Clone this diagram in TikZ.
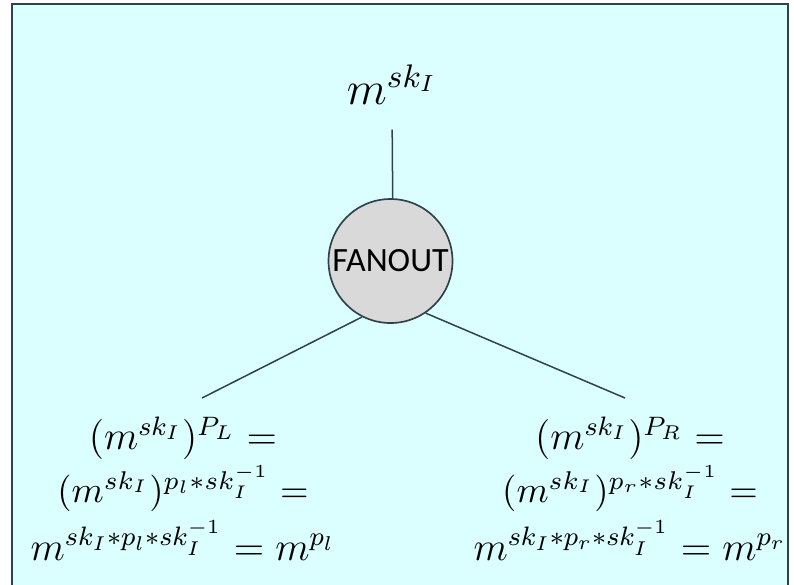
\RequirePackage{fix-cm}
\documentclass[tikz,border=0pt]{standalone}
\usepackage{fontspec}
\newfontfamily\gatefont{Carlito}
\definecolor{sheet}{HTML}{DBFFFF}
\definecolor{rim}{HTML}{2F414B}
\definecolor{disc}{HTML}{D9D9D9}

\begin{document}
\begin{tikzpicture}[x=0.3pt,y=-0.3pt,
  wire/.style={draw=rim,line width=0.45pt},
  gate/.style={circle,draw=rim,line width=0.5pt,fill=disc,inner sep=0pt,
    minimum size=37.2pt,font=\gatefont\fontsize{10.2}{12}\selectfont},
  eqn/.style={align=center,inner sep=0pt,font=\fontsize{12}{14}\selectfont}]
  \useasboundingbox (0,0) rectangle (794,584);
  \clip (0,0) rectangle (794,584);
  % panel
  \draw[rim,fill=sheet,line width=0.6pt] (12,4) rectangle (788,620);
  % gate with input on top and two outputs below
  \node[gate] (fan) at (390.5,261) {FANOUT};
  \node[anchor=base,inner sep=0pt,font=\fontsize{14}{17}\selectfont] (msk) at (392,104) {$m^{sk_I}$};
  \node[eqn,anchor=north] (outl) at (183,416) {$(m^{sk_I})^{P_L} =$\\[0.6pt]
    {\fontsize{11}{13}\selectfont$(m^{sk_I})^{p_l*sk_I^{-1}} =$}\\[1.8pt]
    $m^{sk_I*p_l*sk_I^{-1}} = m^{p_l}$};
  \node[eqn,anchor=north] (outr) at (630,416) {$(m^{sk_I})^{P_R} =$\\[0.6pt]
    {\fontsize{11}{13}\selectfont$(m^{sk_I})^{p_r*sk_I^{-1}} =$}\\[1.8pt]
    $m^{sk_I*p_r*sk_I^{-1}} = m^{p_r}$};
  \coordinate (lfoot) at (202,398);
  \coordinate (rfoot) at (625,398);
  \draw[wire,shorten >=7.5pt] (fan.88) -- (msk.south);
  \draw[wire] (fan.243) -- (lfoot);
  \draw[wire] (fan.-56) -- (rfoot);
\end{tikzpicture}
\end{document}
